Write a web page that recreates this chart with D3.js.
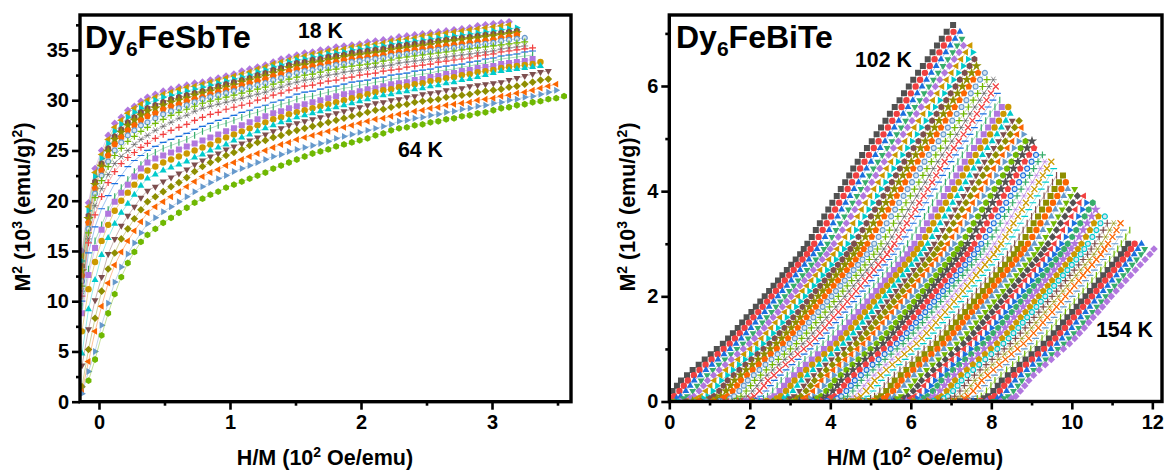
<!DOCTYPE html>
<html>
<head>
<meta charset="utf-8">
<script src="https://cdn.jsdelivr.net/npm/d3@7"></script>
<style>
  html, body { margin: 0; padding: 0; background: #fff; }
  text { font-family: "Liberation Sans", Arial, sans-serif; font-weight: bold; fill: #000; }
</style>
</head>
<body>
<div id="chart"></div>
<script>
// H/M, in Oe/emu, shared by all its rows
var hmLeft = [-13,-8,-3,2,7,12,17,22,27,32,37,43,49,55,61,67,73,79,85,91,97,103,109,115,121,127,133,139,145,151,157,163,169,175,181,187,193,199,205,211,217,223,229,235,241,247,253,259,265,271,277,283,289,295,301,307,313,319,325,331,337,343,349,355];

// M^2 of the left panel in units of 100 (emu/g)^2, top row (18 K) to bottom row (64 K)
var m2Left = [
[150,198,232,250,265,277,283,290,294,299,303,306,309,311,313,315,317,318,320,322,324,326,329,331,333,335,338,341,343,345,347,348,350,351,353,354,355,356,358,359,360,361,363,364,365,366,367,368,369,370,371,372,374,375,376,377,378],
[145,194,228,246,261,273,280,287,292,296,300,303,306,308,311,313,314,316,318,320,322,324,326,328,331,333,336,338,340,343,344,346,347,349,350,351,353,354,355,356,357,359,360,361,362,364,365,366,367,368,369,370,371,372,373,374,375],
[140,190,224,242,257,269,276,283,288,292,297,300,303,305,307,309,311,313,315,317,319,321,323,325,328,330,333,335,338,340,341,343,344,346,347,348,350,351,352,353,354,356,357,358,359,360,361,362,363,364,365,366,367,368,369,370,371,372],
[135,185,219,237,252,264,271,278,283,288,292,295,298,301,303,305,307,309,311,314,316,318,320,322,325,327,330,332,335,337,338,340,341,343,344,345,347,348,349,350,351,353,354,355,356,357,358,359,360,361,362,363,364,365,366,367,368,369],
[130,182,216,234,249,261,268,275,280,285,289,292,295,298,300,302,305,307,309,311,313,315,318,320,322,324,327,329,332,334,335,337,338,340,341,343,344,345,346,347,348,350,351,352,353,354,355,357,358,359,360,361,362,363,364,365,366,367],
[125,178,212,230,245,256,263,270,275,280,284,287,291,294,296,299,301,303,306,308,310,312,315,317,319,321,324,326,329,331,332,334,335,337,338,340,341,342,343,344,345,347,348,349,350,351,352,353,354,355,356,357,358,359,360,362,363,365],
[120,172,207,225,239,250,258,265,270,275,278,282,286,289,292,295,298,301,303,305,307,309,311,313,315,317,320,322,325,327,329,330,332,333,335,336,338,339,340,341,342,344,345,346,347,348,349,350,351,352,353,354,355,356,357,359,360,361,362],
[115,168,203,220,234,245,252,259,264,269,273,277,281,285,288,291,294,297,299,301,303,305,307,309,311,313,316,318,321,323,325,326,328,330,331,333,334,335,336,337,339,340,342,343,344,345,346,347,348,349,350,351,352,353,354,355,356,357,358],
[110,162,195,212,226,237,244,250,256,261,265,270,274,278,282,285,289,292,294,296,298,300,302,304,306,308,311,313,316,318,320,321,323,325,326,328,329,330,332,333,334,335,337,338,339,340,341,342,343,344,345,346,347,348,349,351,352,353,354],
[105,158,186,204,218,229,237,243,248,253,257,262,266,270,273,276,280,283,286,288,291,293,295,297,300,302,305,307,310,312,314,315,317,319,320,322,323,325,326,327,329,330,331,333,334,335,336,338,339,340,341,342,344,345,346,348,349,350,351,352],
[100,148,174,192,205,217,225,234,240,245,250,254,258,261,264,267,271,274,277,280,282,285,288,290,293,295,298,300,303,306,308,309,311,313,314,316,318,319,320,322,323,325,326,327,329,330,331,333,334,335,336,338,339,341,342,344,345,346,348,349],
[95,132,160,176,191,204,213,221,229,236,244,248,252,255,258,261,265,269,272,275,277,280,283,286,288,291,293,296,298,301,303,304,306,308,310,312,313,315,316,318,319,321,322,323,325,326,327,329,330,331,333,334,336,337,339,341,342,343,344,345],
[88,126,153,171,187,199,208,216,224,232,238,242,245,248,251,254,257,260,263,266,269,272,275,278,281,284,287,289,292,294,296,298,300,302,304,306,307,309,311,312,314,316,317,318,320,321,323,324,326,327,329,330,332,333,334,336,337,338,339,341],
[70,112,139,160,176,190,200,208,216,224,230,234,238,241,244,247,250,253,256,260,263,266,269,272,275,278,281,283,286,288,290,292,294,296,298,300,302,304,306,308,310,311,313,314,316,317,319,320,322,323,325,326,328,329,330,332,333,334,335,336,338],
[48,92,121,146,163,177,188,197,206,215,222,226,230,233,236,239,243,246,250,253,256,260,263,266,269,272,275,278,280,283,285,287,289,291,293,295,297,299,301,303,305,306,308,309,311,312,314,315,317,318,320,321,323,325,327,329,330,331,332,333,334],
[36,72,101,124,147,162,175,185,194,203,210,214,219,223,227,231,236,240,244,247,251,254,257,260,263,266,269,272,275,277,279,281,283,285,287,289,291,293,295,297,298,300,301,303,304,306,307,308,310,311,312,314,315,316,317,318,320,322,324,326,328,329],
[15,52,83,110,132,148,162,172,182,191,199,204,209,214,218,223,229,234,238,241,245,248,251,255,258,260,263,265,268,270,272,274,276,278,280,282,284,286,288,290,291,293,295,296,298,299,300,301,303,304,305,306,308,309,310,311,313,314,316,318,320,321],
[10,40,70,95,118,136,149,160,170,179,188,194,199,204,209,214,219,224,228,231,235,238,241,244,247,250,253,256,258,261,263,265,267,269,271,273,275,277,279,281,282,284,286,287,289,290,292,293,295,296,297,298,300,301,302,304,305,307,308,310,312,314,316],
[8,30,50,76,98,119,134,147,158,168,177,183,189,194,199,204,209,214,218,222,225,229,232,235,238,241,244,246,249,251,253,255,257,259,262,264,266,268,270,272,274,276,279,280,282,283,285,286,288,289,291,292,294,295,297,298,300,301,303,304,306,308,310],
[null,21,42,66,88,107,124,138,149,159,166,172,178,183,188,193,198,202,206,209,213,216,219,222,225,228,232,235,238,241,244,247,249,251,254,256,258,260,262,265,267,270,272,273,275,276,278,279,281,282,284,285,287,288,290,292,293,295,296,298,299,301,302,304]
];

// M^2 levels of the right panel, in 10^3 (emu/g)^2, shared by all its rows
var m2Right = [0.003,0.01,0.06,0.1,0.2,0.3,0.4,0.5,0.6,0.7,0.8,0.9,1.0,1.1,1.2,1.3,1.4,1.5,1.6,1.7,1.8,1.9,2.0,2.1,2.2,2.3,2.4,2.5,2.6,2.7,2.8,2.9,3.0,3.13,3.26,3.39,3.52,3.65,3.78,3.91,4.04,4.17,4.3,4.43,4.56,4.69,4.82,4.95,5.08,5.21,5.34,5.47,5.6,5.73,5.86,5.99,6.12,6.25,6.38,6.51,6.64,6.77,6.9,7.03,7.16];

// H/M of the right panel in Oe/emu, 102 K to 154 K in 1 K steps
var hmRight = [
[-75,-40,-15,-5,8,19,29,44,58,73,88,103,118,133,146,158,170,181,192,204,215,226,237,248,259,270,281,292,303,314,325,334,343,354,364,374,385,395,405,416,426,437,447,457,468,479,491,503,515,526,537,548,560,572,583,595,606,618,630,642,654,665,677,689,705],
[-58,-23,2,12,25,36,46,61,75,90,105,120,135,150,163,175,187,198,209,221,232,243,254,265,276,287,298,309,320,331,342,351,360,371,381,391,402,412,422,433,443,454,464,474,485,496,508,520,532,543,554,565,577,589,600,612,623,635,647,659,671,682,694,706],
[-42,-7,18,28,41,52,62,77,91,106,121,136,151,166,179,191,203,214,225,237,248,259,270,281,292,303,314,325,336,347,358,367,376,387,397,407,418,428,438,449,459,470,480,490,501,512,524,536,548,559,570,581,593,605,616,628,639,651,663,675,687,698,710,722],
[-25,10,35,45,58,69,79,94,108,123,138,153,168,183,196,208,220,231,242,254,265,276,287,298,309,320,331,342,353,364,375,384,393,404,414,424,435,445,455,466,476,487,497,507,518,529,541,553,565,576,587,598,610,622,633,645,656,668,680,692,704,715,727],
[-9,26,51,61,74,85,95,110,124,139,154,169,184,199,212,224,236,247,258,270,281,292,303,314,325,336,347,358,369,380,391,400,409,420,430,440,451,461,471,482,492,503,513,523,534,545,557,569,581,592,603,614,626,638,649,661,672,684,696,708,720,731],
[8,43,68,78,91,102,112,127,141,156,171,186,201,216,229,241,253,264,275,287,298,309,320,331,342,353,364,375,386,397,408,417,426,437,447,457,468,478,488,499,509,520,530,540,551,562,574,586,598,609,620,631,643,655,666,678,689,701,713,725,737,748],
[25,60,85,95,108,119,129,144,158,173,188,203,218,233,246,258,270,281,292,304,315,326,337,348,359,370,381,392,403,414,425,434,443,454,464,474,485,495,505,516,526,537,547,557,568,579,591,603,615,626,637,648,660,672,683,695,706,718,730,742,754],
[41,76,101,111,124,135,145,160,174,189,204,219,234,249,262,274,286,297,308,320,331,342,353,364,375,386,397,408,419,430,441,450,459,470,480,490,501,511,521,532,542,553,563,573,584,595,607,619,631,642,653,664,676,688,699,711,722,734,746,758],
[58,93,118,128,141,152,162,177,191,206,221,236,251,266,279,291,303,314,325,337,348,359,370,381,392,403,414,425,436,447,458,467,476,487,497,507,518,528,538,549,559,570,580,590,601,612,624,636,648,659,670,681,693,705,716,728,739,751,763],
[74,109,134,144,157,168,178,193,207,222,237,252,267,282,295,307,319,330,341,353,364,375,386,397,408,419,430,441,452,463,474,483,492,503,513,523,534,544,554,565,575,586,596,606,617,628,640,652,664,675,686,697,709,721,732,744,755,767],
[91,126,151,161,174,185,195,210,224,239,254,269,284,299,312,324,336,347,358,370,381,392,403,414,425,436,447,458,469,480,491,500,509,520,530,540,551,561,571,582,592,603,613,623,634,645,657,669,681,692,703,714,726,738,749,761,772,784],
[108,143,168,178,191,202,212,227,241,256,271,286,301,316,329,341,353,364,375,387,398,409,420,431,442,453,464,475,486,497,508,517,526,537,547,557,568,578,588,599,609,620,630,640,651,662,674,686,698,709,720,731,743,755,766,778,789],
[124,159,184,194,207,218,228,243,257,272,287,302,317,332,345,357,369,380,391,403,414,425,436,447,458,469,480,491,502,513,524,533,542,553,563,573,584,594,604,615,625,636,646,656,667,678,690,702,714,725,736,747,759,771,782,794,805],
[141,176,201,211,224,235,245,260,274,289,304,319,334,349,362,374,386,397,408,420,431,442,453,464,475,486,497,508,519,530,541,550,559,570,580,590,601,611,621,632,642,653,663,673,684,695,707,719,731,742,753,764,776,788,799,811],
[157,192,217,227,240,251,261,276,290,305,320,335,350,365,378,390,402,413,424,436,447,458,469,480,491,502,513,524,535,546,557,566,575,586,596,606,617,627,637,648,658,669,679,689,700,711,723,735,747,758,769,780,792,804,815],
[174,209,234,244,257,268,278,293,307,322,337,352,367,382,395,407,419,430,441,453,464,475,486,497,508,519,530,541,552,563,574,583,592,603,613,623,634,644,654,665,675,686,696,706,717,728,740,752,764,775,786,797,809,821],
[191,226,251,261,274,285,295,310,324,339,354,369,384,399,412,424,436,447,458,470,481,492,503,514,525,536,547,558,569,580,591,600,609,620,630,640,651,661,671,682,692,703,713,723,734,745,757,769,781,792,803,814,826],
[207,242,267,277,290,301,311,326,340,355,370,385,400,415,428,440,452,463,474,486,497,508,519,530,541,552,563,574,585,596,607,616,625,636,646,656,667,677,687,698,708,719,729,739,750,761,773,785,797,808,819,830,842],
[224,259,284,294,307,318,328,343,357,372,387,402,417,432,445,457,469,480,491,503,514,525,536,547,558,569,580,591,602,613,624,633,642,653,663,673,684,694,704,715,725,736,746,756,767,778,790,802,814,825,836,847],
[240,275,300,310,323,334,344,359,373,388,403,418,433,448,461,473,485,496,507,519,530,541,552,563,574,585,596,607,618,629,640,649,658,669,679,689,700,710,720,731,741,752,762,772,783,794,806,818,830,841,852],
[257,292,317,327,340,351,361,376,390,405,420,435,450,465,478,490,502,513,524,536,547,558,569,580,591,602,613,624,635,646,657,666,675,686,696,706,717,727,737,748,758,769,779,789,800,811,823,835,847,858,869],
[274,309,334,344,357,368,378,393,407,422,437,452,467,482,495,507,519,530,541,553,564,575,586,597,608,619,630,641,652,663,674,683,692,703,713,723,734,744,754,765,775,786,796,806,817,828,840,852,864,875],
[290,325,350,360,373,384,394,409,423,438,453,468,483,498,511,523,535,546,557,569,580,591,602,613,624,635,646,657,668,679,690,699,708,719,729,739,750,760,770,781,791,802,812,822,833,844,856,868,880],
[307,342,367,377,390,401,411,426,440,455,470,485,500,515,528,540,552,563,574,586,597,608,619,630,641,652,663,674,685,696,707,716,725,736,746,756,767,777,787,798,808,819,829,839,850,861,873,885],
[323,358,383,393,406,417,427,442,456,471,486,501,516,531,544,556,568,579,590,602,613,624,635,646,657,668,679,690,701,712,723,732,741,752,762,772,783,793,803,814,824,835,845,855,866,877,889,901],
[340,375,400,410,423,434,444,459,473,488,503,518,533,548,561,573,585,596,607,619,630,641,652,663,674,685,696,707,718,729,740,749,758,769,779,789,800,810,820,831,841,852,862,872,883,894,906],
[357,392,417,427,440,451,461,476,490,505,520,535,550,565,578,590,602,613,624,636,647,658,669,680,691,702,713,724,735,746,757,766,775,786,796,806,817,827,837,848,858,869,879,889,900,911],
[373,408,433,443,456,467,477,492,506,521,536,551,566,581,594,606,618,629,640,652,663,674,685,696,707,718,729,740,751,762,773,782,791,802,812,822,833,843,853,864,874,885,895,905,916,927],
[390,425,450,460,473,484,494,509,523,538,553,568,583,598,611,623,635,646,657,669,680,691,702,713,724,735,746,757,768,779,790,799,808,819,829,839,850,860,870,881,891,902,912,922,933],
[406,441,466,476,489,500,510,525,539,554,569,584,599,614,627,639,651,662,673,685,696,707,718,729,740,751,762,773,784,795,806,815,824,835,845,855,866,876,886,897,907,918,928,938,949],
[423,458,483,493,506,517,527,542,556,571,586,601,616,631,644,656,668,679,690,702,713,724,735,746,757,768,779,790,801,812,823,832,841,852,862,872,883,893,903,914,924,935,945,955],
[440,475,500,510,523,534,544,559,573,588,603,618,633,648,661,673,685,696,707,719,730,741,752,763,774,785,796,807,818,829,840,849,858,869,879,889,900,910,920,931,941,952,962],
[456,491,516,526,539,550,560,575,589,604,619,634,649,664,677,689,701,712,723,735,746,757,768,779,790,801,812,823,834,845,856,865,874,885,895,905,916,926,936,947,957,968,978],
[473,508,533,543,556,567,577,592,606,621,636,651,666,681,694,706,718,729,740,752,763,774,785,796,807,818,829,840,851,862,873,882,891,902,912,922,933,943,953,964,974,985],
[489,524,549,559,572,583,593,608,622,637,652,667,682,697,710,722,734,745,756,768,779,790,801,812,823,834,845,856,867,878,889,898,907,918,928,938,949,959,969,980,990],
[506,541,566,576,589,600,610,625,639,654,669,684,699,714,727,739,751,762,773,785,796,807,818,829,840,851,862,873,884,895,906,915,924,935,945,955,966,976,986,997,1007],
[523,558,583,593,606,617,627,642,656,671,686,701,716,731,744,756,768,779,790,802,813,824,835,846,857,868,879,890,901,912,923,932,941,952,962,972,983,993,1003,1014],
[539,574,599,609,622,633,643,658,672,687,702,717,732,747,760,772,784,795,806,818,829,840,851,862,873,884,895,906,917,928,939,948,957,968,978,988,999,1009,1019,1030],
[556,591,616,626,639,650,660,675,689,704,719,734,749,764,777,789,801,812,823,835,846,857,868,879,890,901,912,923,934,945,956,965,974,985,995,1005,1016,1026,1036],
[572,607,632,642,655,666,676,691,705,720,735,750,765,780,793,805,817,828,839,851,862,873,884,895,906,917,928,939,950,961,972,981,990,1001,1011,1021,1032,1042,1052],
[589,624,649,659,672,683,693,708,722,737,752,767,782,797,810,822,834,845,856,868,879,890,901,912,923,934,945,956,967,978,989,998,1007,1018,1028,1038,1049,1059],
[606,641,666,676,689,700,710,725,739,754,769,784,799,814,827,839,851,862,873,885,896,907,918,929,940,951,962,973,984,995,1006,1015,1024,1035,1045,1055,1066],
[622,657,682,692,705,716,726,741,755,770,785,800,815,830,843,855,867,878,889,901,912,923,934,945,956,967,978,989,1000,1011,1022,1031,1040,1051,1061,1071,1082],
[639,674,699,709,722,733,743,758,772,787,802,817,832,847,860,872,884,895,906,918,929,940,951,962,973,984,995,1006,1017,1028,1039,1048,1057,1068,1078,1088],
[655,690,715,725,738,749,759,774,788,803,818,833,848,863,876,888,900,911,922,934,945,956,967,978,989,1000,1011,1022,1033,1044,1055,1064,1073,1084,1094,1104],
[672,707,732,742,755,766,776,791,805,820,835,850,865,880,893,905,917,928,939,951,962,973,984,995,1006,1017,1028,1039,1050,1061,1072,1081,1090,1101,1111,1121],
[689,724,749,759,772,783,793,808,822,837,852,867,882,897,910,922,934,945,956,968,979,990,1001,1012,1023,1034,1045,1056,1067,1078,1089,1098,1107,1118,1128],
[705,740,765,775,788,799,809,824,838,853,868,883,898,913,926,938,950,961,972,984,995,1006,1017,1028,1039,1050,1061,1072,1083,1094,1105,1114,1123,1134,1144],
[722,757,782,792,805,816,826,841,855,870,885,900,915,930,943,955,967,978,989,1001,1012,1023,1034,1045,1056,1067,1078,1089,1100,1111,1122,1131,1140],
[738,773,798,808,821,832,842,857,871,886,901,916,931,946,959,971,983,994,1005,1017,1028,1039,1050,1061,1072,1083,1094,1105,1116,1127,1138,1147,1156],
[755,790,815,825,838,849,859,874,888,903,918,933,948,963,976,988,1000,1011,1022,1034,1045,1056,1067,1078,1089,1100,1111,1122,1133,1144,1155,1164,1173],
[772,807,832,842,855,866,876,891,905,920,935,950,965,980,993,1005,1017,1028,1039,1051,1062,1073,1084,1095,1106,1117,1128,1139,1150,1161,1172,1181],
[788,823,850,861,872,883,893,905,919,934,949,964,979,994,1007,1019,1031,1042,1053,1065,1076,1087,1098,1110,1122,1134,1146,1158,1170,1182,1194,1204]
];

// Origin style cycles, the left panel starts four steps into them
var colorCycle = ["#515151","#f14040","#1a6fdf","#37ad6b","#b177de","#cc9900","#00cbcc","#7d4e4e","#8e8e00","#fb6501","#6699cc","#6fb802"];
var symbolCycle = ["square","circle","up","down","diamond","left","right","hexagon","star","pentagon","ring","plus","asterisk","times","dash","tick"];
var leftCycleStart = 4;

var xTicksLeft = [0,100,200,300];
var xMinorLeft = [50,150,250,350];
var yTicksLeft = [0,50,100,150,200,250,300,350];
var yMinorLeft = [25,75,125,175,225,275,325,375];
var xTicksRight = [0,200,400,600,800,1000,1200];
var xMinorRight = [100,300,500,700,900,1100];
var yTicksRight = [0,2,4,6];
var yMinorRight = [1,3,5,7];

var svgWidth = 1164;
var svgHeight = 471;

var svg = d3.select("#chart")
  .append("svg")
  .attr("width", svgWidth)
  .attr("height", svgHeight)
  .style("display", "block");

// regular polygon for the hexagon and pentagon markers
function polygon(n, r, ctx) {
  for (var k = 0; k < n; k++) {
    var a = -Math.PI / 2 + k * 2 * Math.PI / n;
    if (k === 0) ctx.moveTo(r * Math.cos(a), r * Math.sin(a));
    else ctx.lineTo(r * Math.cos(a), r * Math.sin(a));
  }
  ctx.closePath();
}

function segments(pairs, ctx) {
  pairs.forEach(function(p) {
    ctx.moveTo(p[0], p[1]);
    ctx.lineTo(p[2], p[3]);
  });
}

function markerPath(name) {
  var ctx = d3.path();
  var r = 3.4;
  if (name === "square") ctx.rect(-3, -3, 6, 6);
  else if (name === "circle" || name === "ring") ctx.arc(0, 0, name === "ring" ? 2.5 : 3.2, 0, 2 * Math.PI);
  else if (name === "up" || name === "down" || name === "left" || name === "right") polygon(3, 4, ctx);
  else if (name === "diamond") polygon(4, 3.8, ctx);
  else if (name === "hexagon") polygon(6, r, ctx);
  else if (name === "pentagon") polygon(5, 3.6, ctx);
  else if (name === "star") d3.symbolStar.draw(ctx, 34);
  else if (name === "plus") segments([[-r, 0, r, 0], [0, -r, 0, r]], ctx);
  else if (name === "times") segments([[-3, -3, 3, 3], [-3, 3, 3, -3]], ctx);
  else if (name === "asterisk") segments([[-r, 0, r, 0], [-2, -3, 2, 3], [-2, 3, 2, -3]], ctx);
  else if (name === "dash") segments([[-r, 0, r, 0]], ctx);
  else if (name === "tick") segments([[0, -r, 0, r]], ctx);
  return ctx.toString();
}

var rotation = { down: 180, left: -90, right: 90 };
var strokeOnly = ["plus", "times", "asterisk", "dash", "tick"];

function drawPanel(cfg) {
  var xScale = d3.scaleLinear().domain(cfg.xDomain).range([cfg.left, cfg.right]);
  var yScale = d3.scaleLinear().domain(cfg.yDomain).range([cfg.bottom, cfg.top]);

  svg.append("clipPath")
    .attr("id", cfg.id)
    .append("rect")
    .attr("x", cfg.left)
    .attr("y", cfg.top)
    .attr("width", cfg.right - cfg.left)
    .attr("height", cfg.bottom - cfg.top);

  var plot = svg.append("g").attr("clip-path", `url(#${cfg.id})`);

  var line = d3.line()
    .defined(d => d[0] !== null && d[1] !== null)
    .x(d => xScale(d[0]))
    .y(d => yScale(d[1]));

  cfg.rows.forEach(function(points, i) {
    var color = colorCycle[(i + cfg.cycleStart) % colorCycle.length];
    var name = cfg.symbols[(i + cfg.cycleStart) % cfg.symbols.length];
    var row = plot.append("g");

    row.append("path")
      .attr("d", line(points))
      .attr("fill", "none")
      .attr("stroke", color)
      .attr("stroke-width", 0.6)
      .attr("stroke-opacity", 0.7);

    var isStroke = strokeOnly.indexOf(name) >= 0;
    var shape = markerPath(name);

    row.selectAll("path.marker")
      .data(points.filter(d => d[0] !== null && d[1] !== null))
      .enter()
      .append("path")
      .attr("class", "marker")
      .attr("d", shape)
      .attr("transform", d => `translate(${xScale(d[0])},${yScale(d[1])}) rotate(${rotation[name] || 0})`)
      .attr("fill", isStroke ? "none" : (name === "ring" ? "#d6e4f2" : color))
      .attr("stroke", (isStroke || name === "ring") ? color : "none")
      .attr("stroke-width", name === "asterisk" ? 0.6 : 1.2);
  });

  // frame on top of the marks
  svg.append("rect")
    .attr("x", cfg.left)
    .attr("y", cfg.top)
    .attr("width", cfg.right - cfg.left)
    .attr("height", cfg.bottom - cfg.top)
    .attr("fill", "none")
    .attr("stroke", "#000")
    .attr("stroke-width", 3.4);

  // major and minor ticks
  var bottomAxis = d3.axisBottom(xScale).tickValues(cfg.xTicks).tickSize(8).tickPadding(5)
    .tickFormat(cfg.xFormat);
  var leftAxis = d3.axisLeft(yScale).tickValues(cfg.yTicks).tickSize(8).tickPadding(3)
    .tickFormat(cfg.yFormat);
  var bottomMinor = d3.axisBottom(xScale).tickValues(cfg.xMinor).tickSize(4).tickFormat("");
  var leftMinor = d3.axisLeft(yScale).tickValues(cfg.yMinor).tickSize(4).tickFormat("");

  [[bottomAxis, bottomMinor, `translate(0,${cfg.bottom})`], [leftAxis, leftMinor, `translate(${cfg.left},0)`]].forEach(function(a) {
    [a[0], a[1]].forEach(function(axis) {
      var g = svg.append("g").attr("transform", a[2]).call(axis);
      g.select(".domain").remove();
      g.selectAll(".tick line").attr("stroke", "#000").attr("stroke-width", 2.6);
      g.selectAll(".tick text").style("font-size", "20px").attr("fill", "#000");
    });
  });

  // axis titles, with raised exponents
  var xTitle = svg.append("text")
    .attr("x", cfg.xTitleX)
    .attr("y", 465)
    .attr("text-anchor", "middle")
    .style("font-size", "21.5px");
  xTitle.append("tspan").text("H/M (10");
  xTitle.append("tspan").attr("dy", -8).style("font-size", "14px").text("2");
  xTitle.append("tspan").attr("dy", 8).text(" Oe/emu)");

  var yTitle = svg.append("text")
    .attr("transform", `translate(${cfg.yTitleX},${cfg.yTitleY}) rotate(-90)`)
    .attr("text-anchor", "middle")
    .style("font-size", "21.5px");
  yTitle.append("tspan").text("M");
  yTitle.append("tspan").attr("dy", -8).style("font-size", "14px").text("2");
  yTitle.append("tspan").attr("dy", 8).text(" (10");
  yTitle.append("tspan").attr("dy", -8).style("font-size", "14px").text("3");
  yTitle.append("tspan").attr("dy", 8).text(" (emu/g)");
  yTitle.append("tspan").attr("dy", -8).style("font-size", "14px").text("2");
  yTitle.append("tspan").attr("dy", 8).text(")");

  // compound name
  var name = svg.append("text")
    .attr("x", cfg.nameX)
    .attr("y", 47.5)
    .style("font-size", "32px");
  name.append("tspan").text("Dy");
  name.append("tspan").attr("dy", 8).style("font-size", "21px").text("6");
  name.append("tspan").attr("dy", -8).text(cfg.nameRest);

  cfg.labels.forEach(function(l) {
    svg.append("text")
      .attr("x", l[1])
      .attr("y", l[2])
      .style("font-size", "21.3px")
      .text(l[0]);
  });
}

drawPanel({
  id: "clipLeft",
  left: 80, right: 571, top: 15, bottom: 401.7,
  xDomain: [-14.5, 360.3],
  yDomain: [0, 384.8],
  rows: m2Left.map(row => row.map((v, j) => [hmLeft[j], v])),
  cycleStart: leftCycleStart,
  symbols: symbolCycle.map(s => s === "times" ? "plus" : s),
  xTicks: xTicksLeft, xMinor: xMinorLeft, yTicks: yTicksLeft, yMinor: yMinorLeft,
  xFormat: d => d / 100,
  yFormat: d => d / 10,
  xTitleX: 325, yTitleX: 30, yTitleY: 207,
  nameX: 85, nameRest: "FeSbTe",
  labels: [["18 K", 298, 38], ["64 K", 398, 157.3]]
});

drawPanel({
  id: "clipRight",
  left: 669.3, right: 1162, top: 15, bottom: 401.5,
  xDomain: [0, 1224],
  yDomain: [0, 7.35],
  rows: hmRight.map(row => row.map((v, j) => [v, m2Right[j]])),
  cycleStart: 0,
  symbols: symbolCycle,
  xTicks: xTicksRight, xMinor: xMinorRight, yTicks: yTicksRight, yMinor: yMinorRight,
  xFormat: d => d / 100,
  yFormat: d => d,
  xTitleX: 915, yTitleX: 635, yTitleY: 207,
  nameX: 676, nameRest: "FeBiTe",
  labels: [["102 K", 855, 66.7], ["154 K", 1096, 337]]
});
</script>
</body>
</html>
